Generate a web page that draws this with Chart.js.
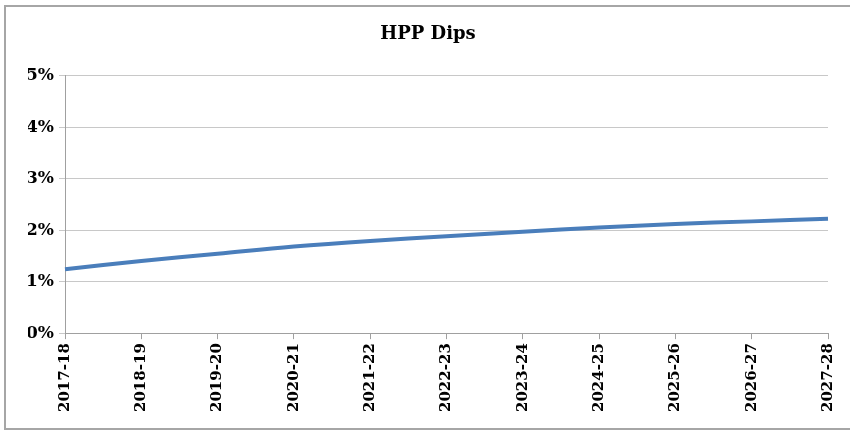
<!DOCTYPE html>
<html>
<head>
<meta charset="utf-8">
<script src="https://cdn.jsdelivr.net/npm/chart.js@4.4.1/dist/chart.umd.min.js"></script>
<style>
  html, body { margin: 0; padding: 0; background: #fff; overflow: hidden; }
  #chart { display: block; }
</style>
</head>
<body>
<canvas id="chart" width="850" height="432"></canvas>
<script>
// chart data
const years = ['2017-18', '2018-19', '2019-20', '2020-21', '2021-22', '2022-23',
               '2023-24', '2024-25', '2025-26', '2026-27', '2027-28'];
const hppDips = [1.24, 1.40, 1.54, 1.68, 1.79, 1.88, 1.97, 2.05, 2.12, 2.17, 2.22];
const yTicks = [0, 1, 2, 3, 4, 5];

// outer frame of the chart object (left, top and bottom edges only)
const framePlugin = {
  id: 'frame',
  beforeDraw(chart) {
    const c = chart.ctx;
    c.save();
    c.strokeStyle = '#a6a6a6';
    c.lineWidth = 2;
    c.beginPath();
    c.moveTo(860, 6);
    c.lineTo(5, 6);
    c.lineTo(5, 429);
    c.lineTo(860, 429);
    c.stroke();
    c.restore();
  }
};

const ctx = document.getElementById('chart').getContext('2d');
new Chart(ctx, {
  type: 'line',
  data: {
    labels: years,
    datasets: [{
      label: 'HPP Dips',
      data: hppDips,
      borderColor: '#4a7ebb',
      borderWidth: 4,
      pointRadius: 0,
      tension: 0.4,
      fill: false
    }]
  },
  options: {
    responsive: false,
    animation: false,
    layout: { padding: { left: 28, right: 22, top: 0, bottom: 16 } },
    plugins: {
      legend: { display: false },
      tooltip: { enabled: false },
      title: {
        display: true,
        text: 'HPP Dips',
        color: '#000',
        font: { family: 'DejaVu Serif', size: 18, weight: 'bold' },
        padding: { top: 24, bottom: 30 }
      }
    },
    scales: {
      x: {
        offset: false,
        grid: { display: true, drawOnChartArea: false, drawTicks: true, tickLength: 6, color: '#a0a0a0' },
        border: { display: true, color: '#a0a0a0', width: 1 },
        ticks: {
          color: '#000',
          font: { family: 'DejaVu Serif', size: 15, weight: 'bold' },
          minRotation: 90,
          maxRotation: 90,
          padding: 4,
          autoSkip: false
        }
      },
      y: {
        min: 0,
        max: 5,
        afterFit: function (scale) { scale.width = 37; },
        afterBuildTicks: function (scale) {
          scale.ticks = yTicks.map(v => ({ value: v }));
        },
        grid: { color: '#c8c8c8', tickLength: 6, drawTicks: true },
        border: { display: true, color: '#a0a0a0', width: 1 },
        ticks: {
          color: '#000',
          font: { family: 'DejaVu Serif', size: 17, weight: 'bold' },
          padding: 5,
          callback: v => v + '%'
        }
      }
    }
  },
  plugins: [framePlugin]
});
</script>
</body>
</html>
